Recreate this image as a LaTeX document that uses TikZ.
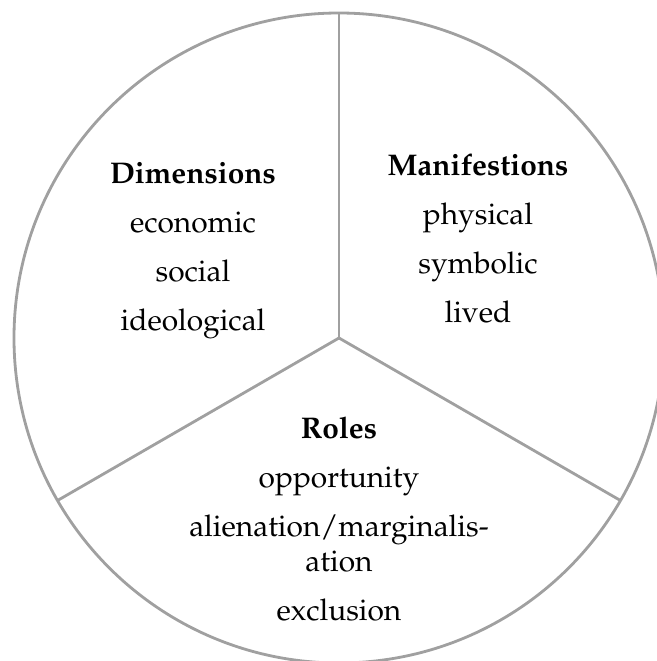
\documentclass[tikz,border=0pt]{standalone}
\usepackage[T1]{fontenc}
\usepackage{mathpazo}
\definecolor{ringgray}{RGB}{160,160,160}
\tikzset{
  ring/.style={draw=ringgray, line width=1.6pt},
  sector/.style={align=center, inner sep=0pt, anchor=north,
    font=\fontsize{17}{19.4}\selectfont},
}
\begin{document}
\begin{tikzpicture}
\useasboundingbox (-6.78,-6.46) rectangle (6.36,6.76);
\coordinate (O) at (0,0);
\coordinate (T) at (90:6.5);
\coordinate (L) at (210:6.5);
\coordinate (R) at (330:6.5);

\draw[ring] (O) circle (6.5);
\draw[ring] (O) -- (T);
\draw[ring] (O) -- (L);
\draw[ring] (O) -- (R);

\node[sector] (dims) at (-2.92,3.51) {\textbf{Dimensions}\\[8.5pt] economic\\[8.5pt] social\\[8.5pt] ideological};
\node[sector] (manif) at (2.78,3.69) {\textbf{Manifestions}\\[8.5pt] physical\\[8.5pt] symbolic\\[8.5pt] lived};
\node[sector] (roles) at (0,-1.58) {\textbf{Roles}\\[8.5pt] opportunity\\[8.5pt] alienation/marginalis-\\ ation\\[8.5pt] exclusion};
\end{tikzpicture}
\end{document}
